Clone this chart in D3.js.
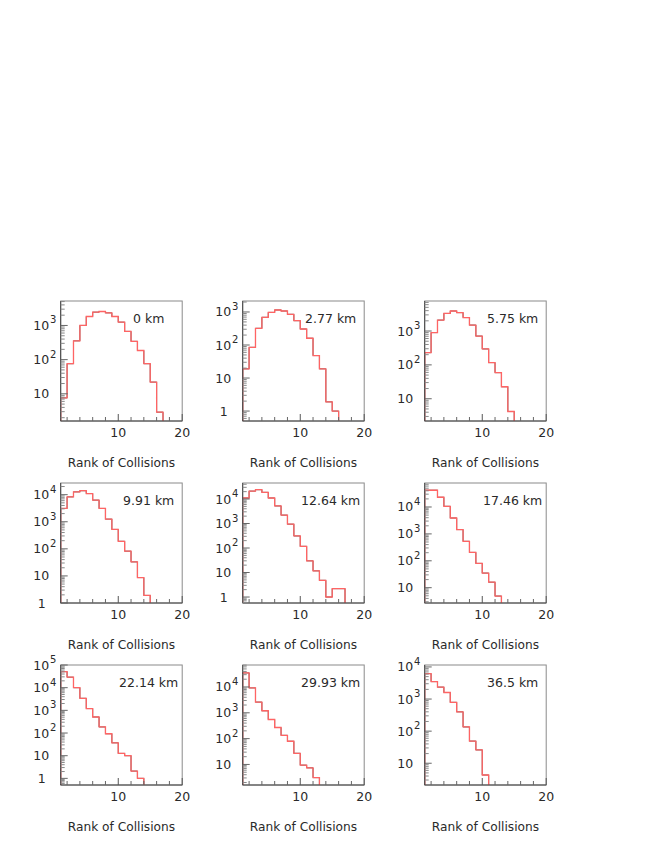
<!DOCTYPE html>
<html>
<head>
<meta charset="utf-8">
<script src="https://cdnjs.cloudflare.com/ajax/libs/d3/7.8.5/d3.min.js"></script>
<style>
  body { margin: 0; background: #fff; }
  text { font-family: "DejaVu Sans", sans-serif; fill: #2a2a2a; }
</style>
</head>
<body>
<svg id="chart" width="654" height="846"></svg>
<script>
// histogram contents, one bin per unit starting at rank 1
var counts0km   = [7.6, 76, 355, 1000, 1830, 2450, 2560, 2340, 1830, 1250, 670, 343, 185, 76, 22, 2.9];
var counts277km = [19, 85, 320, 690, 970, 1150, 1070, 850, 545, 305, 160, 48, 19, 1.9, 1];
var counts575km = [230, 900, 2100, 3300, 3900, 3500, 2500, 1500, 710, 295, 117, 59, 22.6, 4.2];
var counts991km = [3100, 8300, 12700, 14000, 11000, 6300, 3100, 1250, 520, 190, 82, 33, 8.7, 1.9];
var counts1264km = [11000, 21000, 24000, 18700, 11000, 5200, 2200, 940, 310, 117, 30, 11.7, 4.8, 1, 2.2, 2.2];
var counts1746km = [42000, 42000, 23000, 10600, 3900, 1450, 530, 205, 80, 35, 16, 4.9];
var counts2214km = [51000, 29000, 10000, 3400, 1200, 510, 185, 93, 37, 12.6, 10, 2.1, 1];
var counts2993km = [35000, 9200, 2600, 1200, 550, 270, 134, 79, 27, 9.4, 7.4, 3.1];
var counts365km  = [6200, 3500, 2350, 1600, 790, 400, 135, 49, 26, 4.3];

var distances = ["0 km", "2.77 km", "5.75 km", "9.91 km", "12.64 km", "17.46 km", "22.14 km", "29.93 km", "36.5 km"];
var allCounts = [counts0km, counts277km, counts575km, counts991km, counts1264km,
                 counts1746km, counts2214km, counts2993km, counts365km];

// y axis ranges (log) of each pad
var yMins = [1.6, 0.5, 2.2, 1, 0.57, 2.7, 0.51, 1.6, 2.1];
var yMaxs = [5200, 2150, 7700, 27000, 45000, 78000, 100000, 71000, 11500];

var xRange = [1, 20];
var xMajorTicks = [10, 20];
var xMinorTicks = [2, 4, 6, 8, 12, 14, 16, 18];
var xTitle = "Rank of Collisions";

(function() {
    var svg = d3.select("#chart");
    var padW = 121.5, padH = 120;
    var left0 = 60.7, top0 = 301, step = 182;

    function histPath(counts, x, y, ymin) {
        var pts = [[x(1), y(ymin)]];
        counts.forEach(function(c, i) {
            pts.push([x(1 + i), y(c)]);
            pts.push([x(2 + i), y(c)]);
        });
        pts.push([x(1 + counts.length), y(ymin)]);
        return d3.line()(pts);
    }

    allCounts.forEach(function(counts, k) {
        var col = k % 3, row = Math.floor(k / 3);
        var g = svg.append("g")
            .attr("transform", "translate(" + (left0 + col * step) + "," + (top0 + row * step) + ")");

        var x = d3.scaleLinear().domain(xRange).range([0, padW]);
        var y = d3.scaleLog().domain([yMins[k], yMaxs[k]]).range([padH, 0]);

        var clipId = "clip" + k;
        g.append("clipPath").attr("id", clipId)
            .append("rect").attr("width", padW).attr("height", padH);

        // frame
        g.append("rect")
            .attr("width", padW).attr("height", padH)
            .attr("fill", "none")
            .attr("stroke", "#8a8a8a");

        // histograms: black underneath, red on top
        var hist = g.append("g").attr("clip-path", "url(#" + clipId + ")");
        hist.append("path")
            .attr("d", histPath(counts, x, y, yMins[k]))
            .attr("fill", "none").attr("stroke", "#555").attr("stroke-width", 1);
        hist.append("path")
            .attr("d", histPath(counts, x, y, yMins[k]))
            .attr("fill", "none").attr("stroke", "#ff6464").attr("stroke-width", 1.3);

        // x axis
        g.append("line").attr("x1", 0).attr("x2", padW).attr("y1", padH).attr("y2", padH)
            .attr("stroke", "#444");
        g.selectAll(".xmin").data(xMinorTicks).enter().append("line")
            .attr("x1", x).attr("x2", x).attr("y1", padH).attr("y2", padH - 4)
            .attr("stroke", "#666");
        g.selectAll(".xmaj").data(xMajorTicks).enter().append("line")
            .attr("x1", x).attr("x2", x).attr("y1", padH).attr("y2", padH - 7)
            .attr("stroke", "#555");
        g.selectAll(".xlab").data(xMajorTicks).enter().append("text")
            .attr("x", x).attr("y", padH + 16)
            .attr("text-anchor", "middle")
            .style("font-size", "12.5px")
            .text(function(d) { return d; });
        g.append("text")
            .attr("x", padW / 2).attr("y", padH + 46)
            .attr("text-anchor", "middle")
            .style("font-size", "12.2px")
            .text(xTitle);

        // y axis
        g.append("line").attr("x1", 0).attr("x2", 0).attr("y1", 0).attr("y2", padH)
            .attr("stroke", "#444");
        var lo = Math.floor(Math.log10(yMins[k])), hi = Math.ceil(Math.log10(yMaxs[k]));
        var majors = [], minors = [];
        for (var e = lo; e <= hi; e++) {
            var p = Math.pow(10, e);
            if (p >= yMins[k] * 0.999 && p <= yMaxs[k] * 1.001) majors.push(e);
            for (var m = 2; m <= 9; m++) {
                if (m * p > yMins[k] && m * p < yMaxs[k]) minors.push(m * p);
            }
        }
        g.selectAll(".ymin").data(minors).enter().append("line")
            .attr("x1", 0).attr("x2", 4)
            .attr("y1", function(d) { return y(d); }).attr("y2", function(d) { return y(d); })
            .attr("stroke", "#888");
        g.selectAll(".ymaj").data(majors).enter().append("line")
            .attr("x1", 0).attr("x2", 7)
            .attr("y1", function(d) { return y(Math.pow(10, d)); })
            .attr("y2", function(d) { return y(Math.pow(10, d)); })
            .attr("stroke", "#666");
        var lab = g.selectAll(".ylab").data(majors).enter().append("text")
            .attr("x", function(d) { return d === 0 ? -23 : -27.5; })
            .attr("y", function(d) { return y(Math.pow(10, d)) + 4.5; })
            .style("font-size", "12.5px");
        lab.append("tspan").text(function(d) { return d === 0 ? "1" : "10"; });
        lab.filter(function(d) { return d >= 2; })
            .append("tspan")
            .attr("dx", 1)
            .attr("dy", -6.5)
            .style("font-size", "10px")
            .text(function(d) { return d; });

        // pad label
        g.append("text")
            .attr("x", 88).attr("y", 22)
            .attr("text-anchor", "middle")
            .style("font-size", "12.5px")
            .text(distances[k]);
    });
})();
</script>
</body>
</html>
